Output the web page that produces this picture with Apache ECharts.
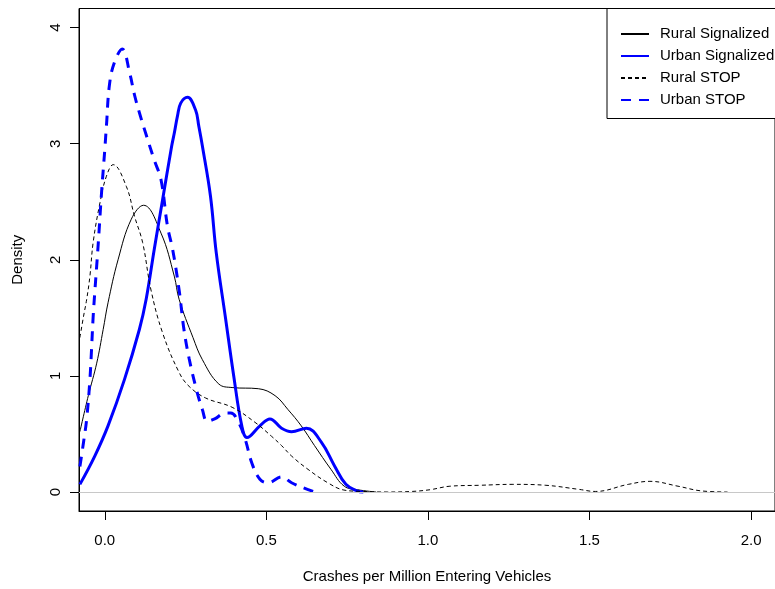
<!DOCTYPE html>
<html><head><meta charset="utf-8">
<script src="https://cdn.jsdelivr.net/npm/echarts@6/dist/echarts.min.js"></script>
<style>html,body{margin:0;padding:0;background:#fff}#c{width:775px;height:589px}</style>
</head><body><div id="c"></div>
<script>
const seriesNames = ['Rural Signalized', 'Urban Signalized', 'Rural STOP', 'Urban STOP'];
const xTicks = [0, 0.5, 1, 1.5, 2];
const yTicks = [0, 1, 2, 3, 4];

const ruralSigX = [-0.077, -0.051, -0.025, -0.005, 0.01, 0.041, 0.082, 0.12, 0.174, 0.215, 0.23, 0.273, 0.302, 0.353, 0.394, 0.475, 0.527, 0.567, 0.608, 0.649, 0.70, 0.741, 0.782, 0.84];
const ruralSigY = [0.52, 0.83, 1.11, 1.40, 1.63, 2.0, 2.35, 2.47, 2.23, 1.86, 1.66, 1.33, 1.14, 0.93, 0.90, 0.89, 0.83, 0.71, 0.57, 0.40, 0.195, 0.05, 0.02, 0.0];

const urbanSigX = [-0.077, -0.031, 0.01, 0.061, 0.107, 0.128, 0.153, 0.179, 0.207, 0.215, 0.225, 0.235, 0.256, 0.281, 0.291, 0.302, 0.327, 0.345, 0.373, 0.399, 0.424, 0.44, 0.48, 0.511, 0.547, 0.578, 0.624, 0.67, 0.711, 0.746, 0.78, 0.80];
const urbanSigY = [0.066, 0.31, 0.57, 0.97, 1.40, 1.66, 2.09, 2.52, 2.98, 3.09, 3.24, 3.35, 3.40, 3.29, 3.15, 2.98, 2.55, 2.06, 1.51, 1.0, 0.57, 0.47, 0.57, 0.63, 0.55, 0.52, 0.55, 0.43, 0.225, 0.066, 0.01, 0.0];

const ruralStopX = [-0.077, -0.066, -0.056, -0.046, -0.036, -0.015, 0.005, 0.026, 0.067, 0.092, 0.117, 0.143, 0.179, 0.23, 0.261, 0.312, 0.394, 0.465, 0.516, 0.547, 0.578, 0.629, 0.69, 0.74, 0.80, 0.874, 0.95, 1.007, 1.068, 1.16, 1.263, 1.365, 1.467, 1.518, 1.62, 1.687, 1.774, 1.845, 1.927];
const ruralStopY = [1.33, 1.51, 1.66, 1.86, 2.15, 2.49, 2.72, 2.82, 2.63, 2.375, 2.15, 1.74, 1.37, 1.03, 0.91, 0.81, 0.73, 0.60, 0.48, 0.40, 0.31, 0.195, 0.08, 0.017, 0.005, 0.0, 0.005, 0.02, 0.05, 0.058, 0.066, 0.058, 0.023, 0.005, 0.066, 0.092, 0.05, 0.01, 0.0];

const urbanStopX = [-0.077, -0.066, -0.056, -0.046, -0.041, -0.036, -0.031, -0.025, -0.02, -0.01, 0.0, 0.005, 0.015, 0.031, 0.054, 0.077, 0.092, 0.11, 0.13, 0.153, 0.174, 0.194, 0.21, 0.23, 0.245, 0.261, 0.282, 0.302, 0.317, 0.34, 0.373, 0.39, 0.414, 0.435, 0.455, 0.48, 0.506, 0.547, 0.578, 0.629, 0.65];
const urbanStopY = [0.22, 0.425, 0.63, 0.97, 1.23, 1.51, 1.72, 1.95, 2.15, 2.58, 2.95, 3.15, 3.52, 3.71, 3.816, 3.61, 3.42, 3.24, 3.06, 2.86, 2.69, 2.29, 2.09, 1.74, 1.40, 1.15, 0.90, 0.71, 0.61, 0.63, 0.68, 0.68, 0.60, 0.45, 0.25, 0.11, 0.08, 0.13, 0.08, 0.02, 0.0];

function pairs(xs, ys) { return xs.map((x, i) => [x, ys[i]]); }

const FONT = 'Liberation Sans';
const chart = echarts.init(document.getElementById('c'), null, { renderer: 'canvas' });
chart.setOption({
  animation: false,
  backgroundColor: '#fff',
  textStyle: { fontFamily: FONT },
  grid: { left: 79, top: 8.5, width: 702, height: 503, show: true, borderColor: '#000', borderWidth: 1, containLabel: false },
  xAxis: {
    type: 'value', min: -0.0798, max: 2.074,
    name: 'Crashes per Million Entering Vehicles', nameLocation: 'middle', nameGap: 58,
    nameTextStyle: { fontFamily: FONT, fontSize: 15, color: '#000' },
    axisLine: { show: true, onZero: false, lineStyle: { color: '#000', width: 1 } },
    axisTick: { show: true, length: 9, customValues: xTicks, lineStyle: { color: '#000' } },
    axisLabel: { customValues: xTicks, formatter: v => v.toFixed(1), fontFamily: FONT, fontSize: 15, color: '#000', margin: 22 },
    splitLine: { show: false }
  },
  yAxis: {
    type: 'value', min: -0.1635, max: 4.165,
    name: 'Density', nameLocation: 'middle', nameGap: 54,
    nameTextStyle: { fontFamily: FONT, fontSize: 15, color: '#000' },
    axisLine: { show: true, onZero: false, lineStyle: { color: '#000', width: 1 } },
    axisTick: { show: true, length: 9, customValues: yTicks, lineStyle: { color: '#000' } },
    axisLabel: { customValues: yTicks, rotate: 90, fontFamily: FONT, fontSize: 15, color: '#000', margin: 16 },
    splitLine: { show: false }
  },
  legend: {
    data: seriesNames,
    orient: 'vertical', left: 607, top: 8.5,
    padding: [18, 20, 11, 13],
    itemWidth: 28, itemHeight: 14, itemGap: 7,
    borderColor: '#000', borderWidth: 1, backgroundColor: '#fff',
    itemStyle: { opacity: 0 },
    textStyle: { fontFamily: FONT, fontSize: 15, color: '#000', padding: [0, 0, 0, 6] }
  },
  series: [
    { name: 'zero', type: 'line', data: [], z: 1, silent: true,
      markLine: { silent: true, symbol: 'none', label: { show: false }, animation: false,
        lineStyle: { color: '#c8c8c8', width: 1, type: 'solid' }, data: [{ yAxis: 0 }] } },
    { name: seriesNames[0], type: 'line', data: pairs(ruralSigX, ruralSigY), smooth: 0.4, showSymbol: false, symbol: 'none',
      lineStyle: { color: '#000', width: 1, type: 'solid' }, itemStyle: { color: '#000' } },
    { name: seriesNames[1], type: 'line', data: pairs(urbanSigX, urbanSigY), smooth: 0.4, showSymbol: false, symbol: 'none',
      lineStyle: { color: '#0000ff', width: 3, type: 'solid' }, itemStyle: { color: '#0000ff' } },
    { name: seriesNames[2], type: 'line', data: pairs(ruralStopX, ruralStopY), smooth: 0.4, showSymbol: false, symbol: 'none',
      lineStyle: { color: '#000', width: 1, type: [4, 3] }, itemStyle: { color: '#000' } },
    { name: seriesNames[3], type: 'line', data: pairs(urbanStopX, urbanStopY), smooth: 0.4, showSymbol: false, symbol: 'none',
      lineStyle: { color: '#0000ff', width: 3, type: [10, 8] }, itemStyle: { color: '#0000ff' } }
  ]
});
</script>
</body></html>
